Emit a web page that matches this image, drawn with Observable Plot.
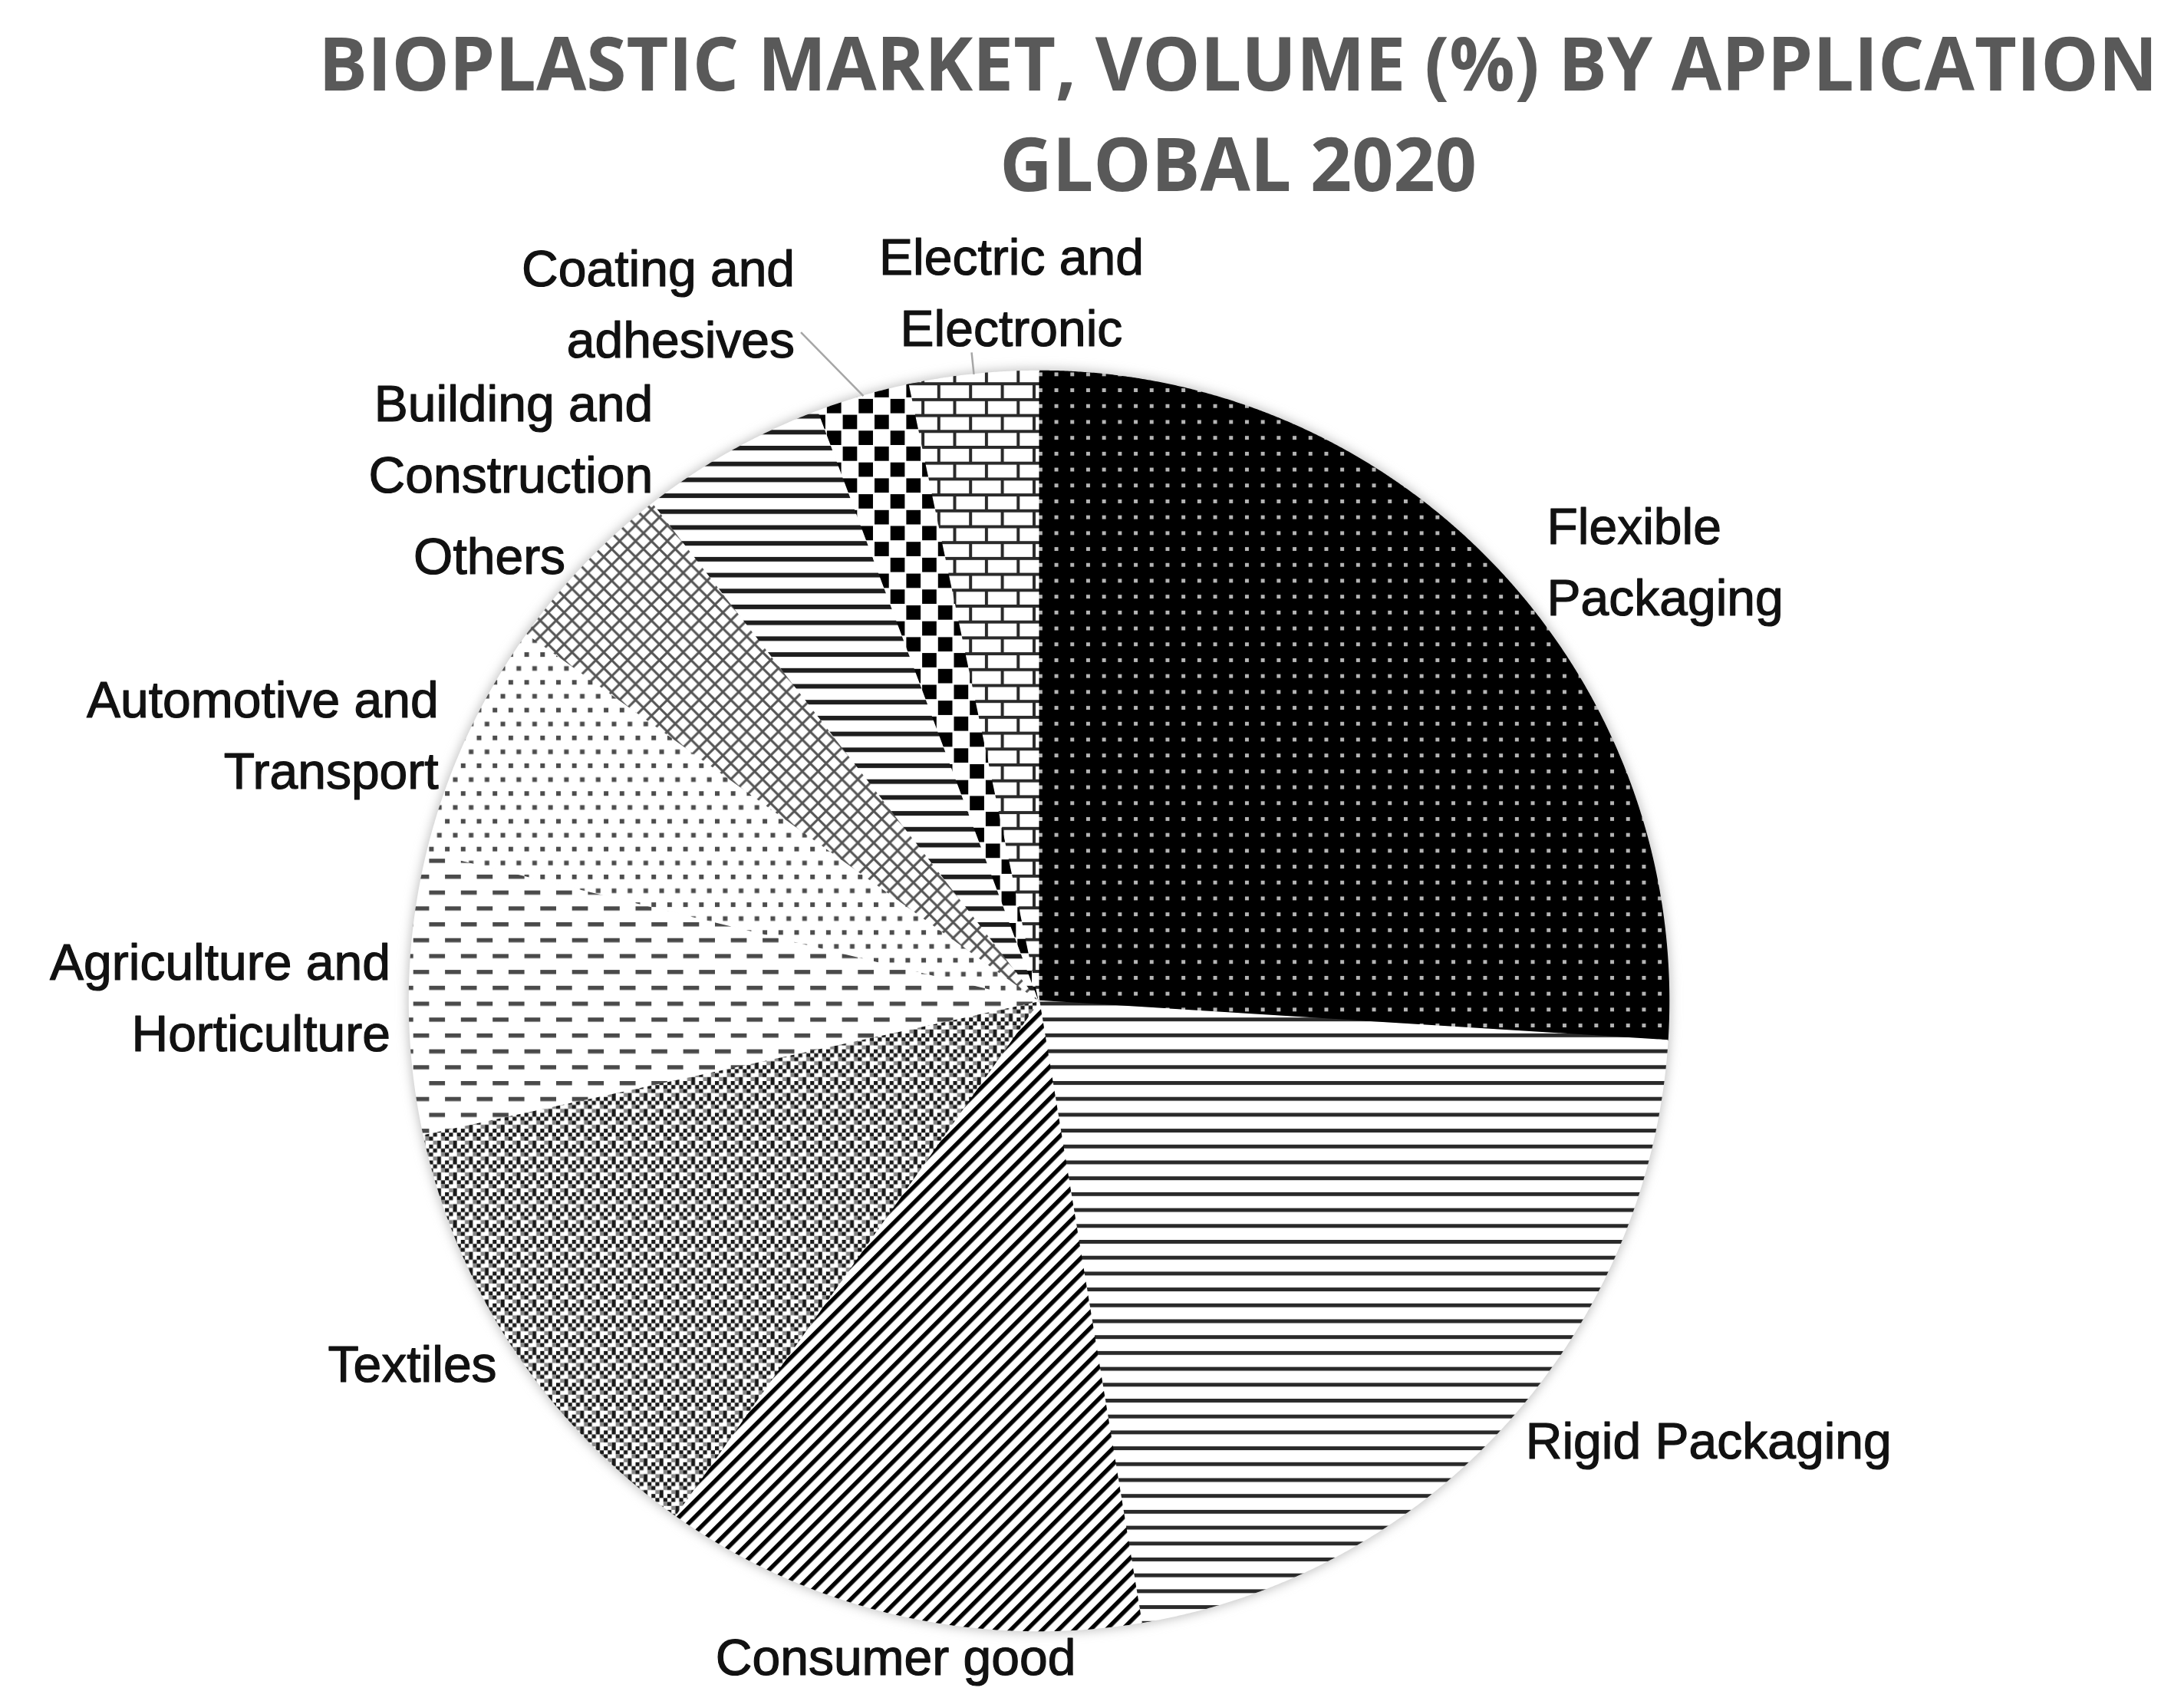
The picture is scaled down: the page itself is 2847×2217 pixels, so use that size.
<!DOCTYPE html>
<html>
<head>
<meta charset="utf-8">
<script src="https://cdn.jsdelivr.net/npm/d3@7"></script>
<script src="https://cdn.jsdelivr.net/npm/@observablehq/plot@0.6"></script>
<style>
  body { margin: 0; background: #fff; }
  #chart { position: relative; width: 2847px; height: 2217px; overflow: hidden; background: #fff; }
  .title-line {
    position: absolute; left: 1614px; white-space: nowrap;
    font-family: "Open Sans", sans-serif; font-weight: 700;
    font-size: 97px; line-height: 97px; color: #595959;
    transform-origin: 0 0;
  }
  #t1 { top: 32px; }
  #t2 { top: 163px; }
  #plot { position: absolute; left: 0; top: 270px; }
</style>
</head>
<body>
<div id="chart">
  <div id="title">
    <div class="title-line" id="t1">BIOPLASTIC MARKET, VOLUME (%) BY APPLICATION</div>
    <div class="title-line" id="t2">GLOBAL 2020</div>
  </div>
  <div id="plot"></div>
</div>
<script>
// ---------------- data ----------------
const categories = [
  "Flexible Packaging", "Rigid Packaging", "Consumer good", "Textiles",
  "Agriculture and Horticulture", "Automotive and Transport", "Others",
  "Building and Construction", "Coating and adhesives", "Electric and Electronic"
];
const labelTexts = [
  "Flexible\nPackaging", "Rigid Packaging", "Consumer good", "Textiles",
  "Agriculture and\nHorticulture", "Automotive and\nTransport", "Others",
  "Building and\nConstruction", "Coating and\nadhesives", "Electric and\nElectronic"
];
const shares = [26.0, 21.4, 12.4, 11.8, 7.2, 6.1, 4.6, 4.8, 2.4, 3.3];

// ---------------- styles / layout ----------------
const patternIds = ["p-flex", "p-rigid", "p-consumer", "p-textiles", "p-agri",
                    "p-auto", "p-others", "p-building", "p-coating", "p-electric"];
const width = 2847, height = 1947;
const cx = 1354, cy = 1034, radius = 821;
const fontSize = 66, lineHeight = 1.41;
const labelFont = "Liberation Sans, Arial, sans-serif";

const data = categories.map((c, i) => ({category: c, label: labelTexts[i], share: shares[i], pat: patternIds[i]}));
const arcs = d3.pie().sort(null).value(d => d.share)(data);

// slice polygons in unit coordinates (y up), angle 0 at 12 o'clock, clockwise
const slices = arcs.map(a => {
  const n = Math.max(2, Math.ceil((a.endAngle - a.startAngle) / 0.003));
  const pts = [{x: 0, y: 0}];
  for (let k = 0; k <= n; k++) {
    const t = a.startAngle + (a.endAngle - a.startAngle) * k / n;
    pts.push({x: Math.sin(t), y: Math.cos(t)});
  }
  return {pat: a.data.pat, pts};
});

const circlePts = d3.range(0, 361).map(d => ({x: Math.sin(d * Math.PI / 180), y: Math.cos(d * Math.PI / 180)}));

// ---------------- label layout (derived from mid-angles) ----------------
const ctx = document.createElement("canvas").getContext("2d");
ctx.font = `${fontSize}px ${labelFont}`;

const labels = arcs.map(a => {
  const m = (a.startAngle + a.endAngle) / 2;
  const s = Math.sin(m), c = Math.cos(m);
  const small = a.data.share < 4;
  const lines = a.data.label.split("\n");
  const ta = s > 0.25 ? "start" : s < -0.25 ? "end" : "middle";
  const la = ta !== "middle" ? "middle" : (c > 0 ? "bottom" : "top");
  const r = small ? (ta === "middle" ? 1.045 : 1.16) : (ta === "middle" ? 1.015 : 1.03);
  let x = s * r, y = c * r;
  const hPx = ((lines.length - 1) * lineHeight + 1) * fontSize;
  if (ta !== "middle") {
    const hh = hPx / 2 / radius;
    const y0 = y - hh, y1 = y + hh;
    const yNear = (y0 <= 0 && y1 >= 0) ? 0 : Math.min(Math.abs(y0), Math.abs(y1));
    const xMin = Math.sqrt(Math.max(0, 1.01 * 1.01 - yNear * yNear));
    x = Math.sign(s) * Math.max(Math.abs(x), xMin);
  }
  const wPx = d3.max(lines, l => ctx.measureText(l).width);
  return {label: a.data.label, x, y, s, c, r, ta, la, small, wPx, hPx, nLines: lines.length};
});

function box(d) {
  const px = cx + d.x * radius, py = cy - d.y * radius;
  const x0 = d.ta === "start" ? px : d.ta === "end" ? px - d.wPx : px - d.wPx / 2;
  const y0 = d.la === "middle" ? py - d.hPx / 2 : d.la === "bottom" ? py - d.hPx : py;
  return {x0, x1: x0 + d.wPx, y0, y1: y0 + d.hPx};
}
// push apart labels that share a row and sit too close horizontally
const minGap = 110;
for (let i = 0; i < labels.length; i++) {
  for (let j = i + 1; j < labels.length; j++) {
    const A = box(labels[i]), B = box(labels[j]);
    if (A.y1 <= B.y0 || B.y1 <= A.y0) continue;
    const [L, Rt, bl, br] = A.x0 < B.x0 ? [labels[i], labels[j], A, B] : [labels[j], labels[i], B, A];
    const gap = br.x0 - bl.x1;
    if (gap < minGap) {
      const sh = (minGap - gap) / 2 / radius;
      L.x -= sh; Rt.x += sh;
    }
  }
}
// leader lines for small slices: from the rim to the label
labels.forEach(d => {
  d.x1 = d.s; d.y1 = d.c;
  if (d.ta === "middle") {
    d.x2 = d.s * (d.r - 0.01); d.y2 = d.c * (d.r - 0.01);
  } else {
    const bx = box(d);
    d.x2 = ((d.ta === "end" ? bx.x1 + 8 : bx.x0 - 8) - cx) / radius;
    d.y2 = (cy - (bx.y1 - fontSize * 0.55)) / radius;
  }
});

const textMarks = [];
for (const ta of ["start", "end", "middle"]) {
  for (const la of ["middle", "top", "bottom"]) {
    const subset = labels.filter(d => d.ta === ta && d.la === la);
    if (subset.length) textMarks.push(Plot.text(subset, {
      x: "x", y: "y", text: "label", textAnchor: ta, lineAnchor: la,
      fontSize, fontFamily: labelFont, lineHeight, fill: "#111",
      stroke: "#111", strokeWidth: 1.2
    }));
  }
}

const plot = Plot.plot({
  width, height,
  margin: 0,
  x: {domain: [-cx / radius, (width - cx) / radius], range: [0, width], axis: null},
  y: {domain: [-(height - cy) / radius, cy / radius], range: [height, 0], axis: null},
  style: {background: "#fff", overflow: "visible"},
  marks: [
    Plot.line(circlePts, {x: "x", y: "y", fill: "#c4c4c4", stroke: "#c4c4c4", strokeWidth: 6}),
    ...slices.map(s => Plot.line(s.pts, {x: "x", y: "y", fill: `url(#${s.pat})`, stroke: `url(#${s.pat})`, strokeWidth: 1.5})),
    Plot.link(labels.filter(d => d.small), {x1: "x1", y1: "y1", x2: "x2", y2: "y2", stroke: "#a6a6a6", strokeWidth: 2.5}),
    ...textMarks
  ]
});

// ---------------- SVG patterns ----------------
(function addDefs(svg) {
  const defs = d3.select(svg).insert("defs", ":first-child");
  const u = 20.7;
  const filt = defs.append("filter").attr("id", "soft").attr("x", "-10%").attr("y", "-10%").attr("width", "120%").attr("height", "120%");
  filt.append("feGaussianBlur").attr("stdDeviation", 7);
  function pat(id, w, h, bg, transform) {
    const p = defs.append("pattern").attr("id", id).attr("patternUnits", "userSpaceOnUse")
      .attr("width", w).attr("height", h);
    if (transform) p.attr("patternTransform", transform);
    p.append("rect").attr("width", w).attr("height", h).attr("fill", bg);
    return p;
  }
  const rect = (p, x, y, w, h, f) => p.append("rect").attr("x", x).attr("y", y).attr("width", w).attr("height", h).attr("fill", f);

  // Flexible packaging: black with light dots
  let p = pat("p-flex", u, u, "#000");
  rect(p, u / 2 - 2.5, u / 2 - 2.5, 5, 5, "#b5b5b5");
  // Rigid packaging: horizontal lines
  p = pat("p-rigid", u, u, "#fff");
  rect(p, 0, 0, u, 5, "#2a2a2a");
  // Consumer good: wide upward diagonal
  p = pat("p-consumer", u, u / Math.SQRT2, "#fff", "rotate(-45)");
  rect(p, 0, 0, u, 5.5, "#000");
  // Textiles: dense weave
  p = pat("p-textiles", u, u, "#fff");
  const b = u / 4;
  [[0,0],[2,0],[1,1],[3,1],[0,2],[2,3]].forEach(([i, j]) => rect(p, i * b, j * b, b, b, "#1a1a1a"));
  [[3,2],[1,3]].forEach(([i, j]) => rect(p, i * b, j * b, b, b, "#888"));
  // Agriculture: dashed horizontal
  p = pat("p-agri", 2 * u, 2 * u, "#fff");
  rect(p, 0, 0, u, 5.5, "#4a4a4a");
  rect(p, u, u, u, 5.5, "#4a4a4a");
  // Automotive: dots
  const ah = u * 1.75;
  p = pat("p-auto", u, ah, "#fff");
  rect(p, 0, 0, 6, 6, "#4d4d4d");
  rect(p, u / 2, ah / 2, 6, 6, "#4d4d4d");
  // Others: diagonal cross-hatch
  p = pat("p-others", u, u, "#fff");
  [[0,0,u,u],[0,u,u,0],[-u/2,u/2,u/2,u*1.5],[u/2,-u/2,u*1.5,u/2],[-u/2,u/2,u/2,-u/2],[u/2,u*1.5,u*1.5,u/2]]
    .forEach(([x1,y1,x2,y2]) => p.append("line").attr("x1",x1).attr("y1",y1).attr("x2",x2).attr("y2",y2)
      .attr("stroke", "#555").attr("stroke-width", 3));
  // Building: horizontal lines
  p = pat("p-building", u, u, "#fff");
  rect(p, 0, 0, u, 6, "#1e1e1e");
  // Coating: checkerboard
  p = pat("p-coating", 2 * u, 2 * u, "#fff");
  rect(p, 1, 1, u - 2, u - 2, "#000");
  rect(p, u + 1, u + 1, u - 2, u - 2, "#000");
  // Electric: bricks
  p = pat("p-electric", 2 * u, 2 * u, "#fff");
  rect(p, 0, 0, 2 * u, 4, "#2a2a2a");
  rect(p, 0, u, 2 * u, 4, "#2a2a2a");
  rect(p, 0, 0, 4, u, "#2a2a2a");
  rect(p, u, u, 4, u, "#2a2a2a");

  // soft halo on the first line mark (the backing circle)
  const first = svg.querySelector('g[aria-label="line"]');
  if (first) first.setAttribute("filter", "url(#soft)");
})(plot);

document.getElementById("plot").appendChild(plot);

// ---------------- title fitting ----------------
function fitTitle() {
  const t1 = document.getElementById("t1"), t2 = document.getElementById("t2");
  const s = 2397 / t1.offsetWidth;
  for (const t of [t1, t2]) {
    t.style.transform = `scaleX(${s}) translateX(-50%)`;
  }
}
fitTitle();
if (document.fonts && document.fonts.ready) document.fonts.ready.then(fitTitle);
</script>
</body>
</html>
